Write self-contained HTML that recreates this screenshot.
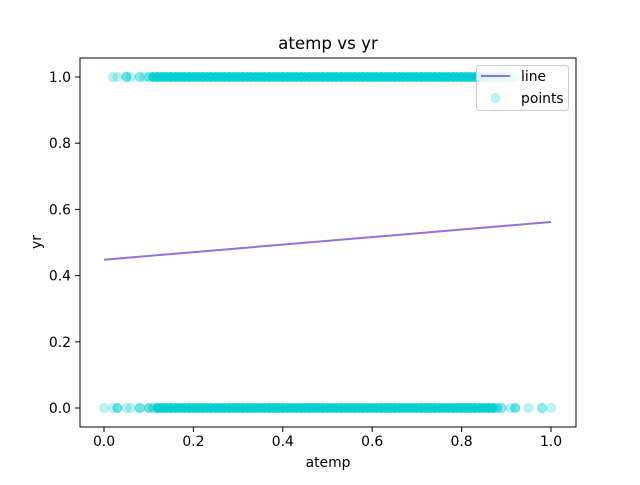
<!DOCTYPE html>
<html><head><meta charset="utf-8"><style>
body{margin:0;background:#fff}
text{font-family:"DejaVu Sans","Liberation Sans",sans-serif;fill:#000}
</style></head><body>
<svg id="c" width="640" height="480" xmlns="http://www.w3.org/2000/svg">
<rect width="640" height="480" fill="#fff"/>
<text x="328" y="49" font-size="16.7" text-anchor="middle">atemp vs yr</text>
<g id="plot"></g>
<rect x="80" y="58" width="496" height="369" fill="none" stroke="#000" stroke-width="1"/>
<g id="axes"></g>
<text x="328" y="467" font-size="13.9" text-anchor="middle">atemp</text>
<text transform="translate(41,242) rotate(-90)" font-size="13.9" text-anchor="middle">yr</text>
<g>
<rect x="476.5" y="65.5" width="92" height="45" rx="3" fill="#fff" fill-opacity="0.8" stroke="#ccc"/>
<line x1="481" y1="76" x2="510" y2="76" stroke="#9370DB" stroke-width="2"/>
<text x="521" y="81" font-size="13.9">line</text>
<circle cx="495.5" cy="98" r="4.5" fill="#00CED1" fill-opacity="0.25" stroke="#00CED1" stroke-opacity="0.25"/>
<text x="521" y="103" font-size="13.9">points</text>
</g>
</svg>
<script>
const xTicks=[0,0.2,0.4,0.6,0.8,1.0];
const yTicks=[0,0.2,0.4,0.6,0.8,1.0];
const lineX=[0,1];
const lineY=[0.448,0.562];
const topX=[0.02,0.03,0.05,0.06,0.08,0.09,0.10,0.11,0.12,0.13,0.14,0.15,0.16,0.17,0.18,0.19,0.20,0.21,0.22,0.23,0.24,0.25,0.26,0.27,0.28,0.29,0.30,0.31,0.32,0.33,0.34,0.35,0.36,0.37,0.38,0.39,0.40,0.41,0.42,0.43,0.44,0.45,0.46,0.47,0.48,0.49,0.50,0.51,0.52,0.53,0.54,0.55,0.56,0.57,0.58,0.59,0.60,0.61,0.62,0.63,0.64,0.65,0.66,0.67,0.68,0.69,0.70,0.71,0.72,0.73,0.74,0.75,0.76,0.77,0.78,0.79,0.80,0.81,0.82,0.83,0.84,0.85,0.86,0.87,0.88,0.89,0.90,0.91,0.92];
const topN=[1,1,3,1,2,1,2,8,8,8,8,8,8,8,8,8,8,8,8,8,8,8,8,8,8,8,8,8,8,8,8,8,8,8,8,8,8,8,8,8,8,8,8,8,8,8,8,8,8,8,8,8,8,8,8,8,8,8,8,8,8,8,8,8,8,8,8,8,8,8,8,8,8,8,8,8,8,8,8,8,8,2,2,2,2,2,1,1,1];
const botX=[0.00,0.02,0.03,0.05,0.06,0.08,0.10,0.11,0.12,0.13,0.14,0.15,0.16,0.17,0.18,0.19,0.20,0.21,0.22,0.23,0.24,0.25,0.26,0.27,0.28,0.29,0.30,0.31,0.32,0.33,0.34,0.35,0.36,0.37,0.38,0.39,0.40,0.41,0.42,0.43,0.44,0.45,0.46,0.47,0.48,0.49,0.50,0.51,0.52,0.53,0.54,0.55,0.56,0.57,0.58,0.59,0.60,0.61,0.62,0.63,0.64,0.65,0.66,0.67,0.68,0.69,0.70,0.71,0.72,0.73,0.74,0.75,0.76,0.77,0.78,0.79,0.80,0.81,0.82,0.83,0.84,0.85,0.86,0.87,0.88,0.89,0.91,0.92,0.95,0.98,1.00];
const botN=[1,1,3,1,1,3,3,2,8,8,8,8,8,8,8,8,8,8,8,8,8,8,8,8,8,8,8,8,8,8,8,8,8,8,8,8,8,8,8,8,8,8,8,8,8,8,8,8,8,8,8,8,8,8,8,8,8,8,8,8,8,8,8,8,8,8,8,8,8,8,8,8,8,8,8,8,8,8,8,8,8,8,8,8,3,2,1,3,1,2,1];
const NS='http://www.w3.org/2000/svg';
const sx=v=>104+v*447, sy=v=>408-v*331;
const plot=document.getElementById('plot'), axes=document.getElementById('axes');
function mk(t,a,p){const e=document.createElementNS(NS,t);for(const k in a)e.setAttribute(k,a[k]);p.appendChild(e);return e;}
function pts(xs,ns,yv,name){xs.forEach((x,i)=>{const op=1-Math.pow(0.75,ns[i]);
const c=mk('circle',{cx:sx(x),cy:sy(yv),r:4.5,fill:'#00CED1','fill-opacity':op,stroke:'#00CED1','stroke-opacity':op},plot);

});}
pts(topX,topN,1,'point-yr-1');
pts(botX,botN,0,'point-yr-0');
const l=mk('line',{x1:sx(lineX[0]),y1:sy(lineY[0]),x2:sx(lineX[1]),y2:sy(lineY[1]),stroke:'#9370DB','stroke-width':2},plot);


xTicks.forEach(v=>{mk('line',{x1:sx(v),y1:427,x2:sx(v),y2:432,stroke:'#000'},axes);
const t=mk('text',{x:sx(v),y:446,'font-size':13.9,'text-anchor':'middle'},axes);t.textContent=v.toFixed(1);

});
yTicks.forEach(v=>{mk('line',{x1:75,y1:sy(v),x2:80,y2:sy(v),stroke:'#000'},axes);
const t=mk('text',{x:71,y:sy(v)+5,'font-size':13.9,'text-anchor':'end'},axes);t.textContent=v.toFixed(1);

});
</script>
</body></html>
